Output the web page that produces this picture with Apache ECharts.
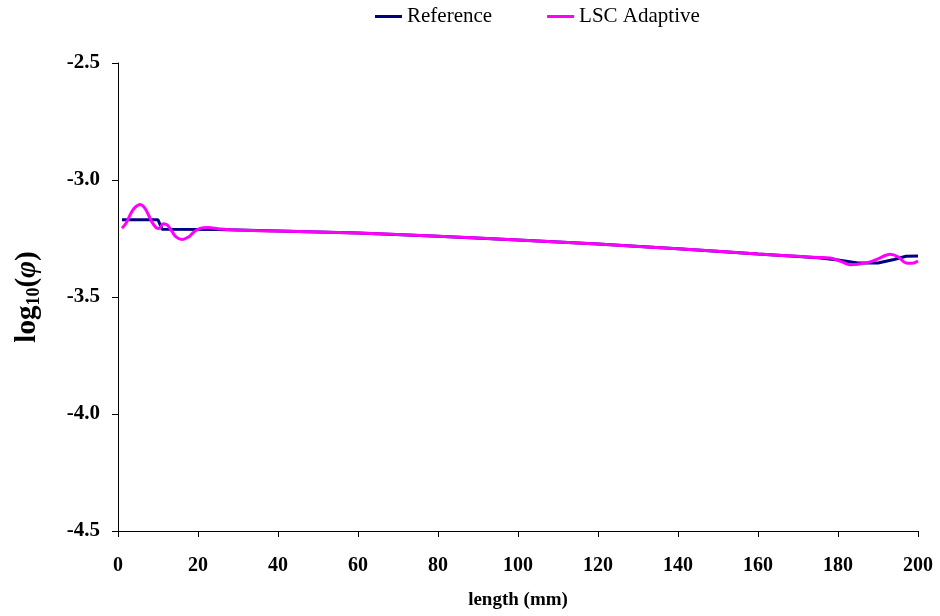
<!DOCTYPE html>
<html>
<head>
<meta charset="utf-8">
<script src="https://cdn.jsdelivr.net/npm/echarts@6/dist/echarts.min.js"></script>
<style>
  html, body { margin: 0; padding: 0; background: #ffffff; }
  #chart { width: 940px; height: 616px; }
</style>
</head>
<body>
<div id="chart"></div>
<script>
// Position along the sample (mm) and log10 of the flux for each series
const referenceLength = [1, 10, 11, 25, 40, 60, 80, 100, 120, 140, 160, 175, 180, 185, 190, 194, 197, 200];
const referenceValue  = [-3.170, -3.170, -3.210, -3.212, -3.218, -3.227, -3.240, -3.256, -3.274, -3.294, -3.316, -3.332, -3.342, -3.355, -3.355, -3.340, -3.326, -3.325];

const adaptiveLength = [1, 2, 3, 4, 5, 5.5, 6.5, 7.5, 8.5, 9.5, 10.3, 11.3, 12.3, 13.5, 14.5, 16, 17.5, 19, 20.5, 22.5, 25, 28, 40, 60, 80, 100, 120, 140, 160, 170, 175, 178, 181, 183, 185, 188, 190, 193, 195, 197, 198.5, 200];
const adaptiveValue  = [-3.206, -3.185, -3.150, -3.122, -3.108, -3.105, -3.115, -3.145, -3.180, -3.203, -3.207, -3.187, -3.192, -3.220, -3.243, -3.254, -3.245, -3.222, -3.207, -3.203, -3.208, -3.213, -3.218, -3.227, -3.240, -3.256, -3.274, -3.294, -3.316, -3.326, -3.331, -3.333, -3.350, -3.362, -3.360, -3.350, -3.337, -3.317, -3.328, -3.355, -3.356, -3.346];

const seriesNames = ['Reference', 'LSC Adaptive'];
const seriesColors = ['#000080', '#ff00ff'];

const zip = (xs, ys) => xs.map((x, i) => [x, ys[i]]);

const serif = '"Liberation Serif", "DejaVu Serif", serif';
const chart = echarts.init(document.getElementById('chart'));

chart.setOption({
  animation: false,
  backgroundColor: '#ffffff',
  legend: {
    top: 1,
    left: 370,
    itemWidth: 27,
    itemHeight: 3,
    itemGap: 55,
    icon: 'rect',
    textStyle: { fontFamily: serif, fontSize: 21, color: '#000' },
    data: seriesNames
  },
  grid: { left: 118, right: 22, top: 63, bottom: 85 },
  xAxis: {
    type: 'value',
    min: 0, max: 200, interval: 20,
    name: 'length (mm)',
    nameLocation: 'middle',
    nameGap: 60,
    nameTextStyle: { fontFamily: serif, fontSize: 19, fontWeight: 'bold', color: '#000' },
    axisLine: { show: true, lineStyle: { color: '#000', width: 1 } },
    axisTick: { show: true, length: 6, lineStyle: { color: '#000' } },
    axisLabel: { margin: 25, fontFamily: serif, fontSize: 20, fontWeight: 'bold', color: '#000' },
    splitLine: { show: false }
  },
  yAxis: {
    type: 'value',
    min: -4.5, max: -2.5, interval: 0.5,
    name: '{a|log}{s|10}{a|(}{p|φ}{a|)}',
    nameLocation: 'middle',
    nameGap: 75,
    nameRotate: 90,
    nameTextStyle: {
      rich: {
        a: { fontFamily: serif, fontSize: 29, fontWeight: 'bold', color: '#000' },
        s: { fontFamily: serif, fontSize: 18, fontWeight: 'bold', color: '#000', padding: [12, 0, 0, 0] },
        p: { fontFamily: serif, fontSize: 29, fontWeight: 'bold', fontStyle: 'italic', color: '#000' }
      }
    },
    axisLine: { show: true, lineStyle: { color: '#000', width: 1 } },
    axisTick: { show: true, length: 6, lineStyle: { color: '#000' } },
    axisLabel: {
      margin: 18, fontFamily: serif, fontSize: 21, fontWeight: 'bold', color: '#000',
      formatter: v => v.toFixed(1)
    },
    splitLine: { show: false }
  },
  series: [
    {
      name: seriesNames[0],
      type: 'line',
      data: zip(referenceLength, referenceValue),
      showSymbol: false,
      smooth: false,
      color: seriesColors[0],
      lineStyle: { width: 3, color: seriesColors[0] },
      z: 2
    },
    {
      name: seriesNames[1],
      type: 'line',
      data: zip(adaptiveLength, adaptiveValue),
      showSymbol: false,
      smooth: 0.35,
      color: seriesColors[1],
      lineStyle: { width: 3, color: seriesColors[1] },
      z: 3
    }
  ]
});
</script>
</body>
</html>
